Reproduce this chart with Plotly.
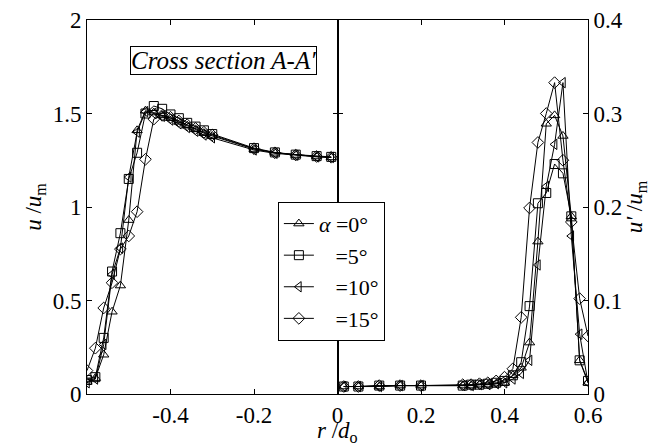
import plotly.graph_objects as go

# r/d0 positions (left half: mean velocity, right half: fluctuation)
r_left = [-0.60, -0.58, -0.56, -0.54, -0.52, -0.50, -0.48, -0.46, -0.44, -0.42, -0.40,
          -0.38, -0.36, -0.34, -0.32, -0.30, -0.20, -0.15, -0.10, -0.05, -0.015]
r_right = [0.015, 0.05, 0.10, 0.15, 0.20, 0.30, 0.32, 0.34, 0.36, 0.38, 0.40,
           0.42, 0.44, 0.46, 0.48, 0.50, 0.52, 0.54, 0.56, 0.58, 0.60]

# u/um
u_a0 = [0.065, 0.085, 0.21, 0.44, 0.58, 0.93, 1.41, 1.515, 1.505, 1.49, 1.475,
        1.455, 1.435, 1.415, 1.395, 1.38, 1.31, 1.29, 1.278, 1.27, 1.265]
u_a5 = [0.075, 0.09, 0.30, 0.655, 0.86, 1.15, 1.29, 1.50, 1.54, 1.525, 1.495,
        1.475, 1.45, 1.43, 1.41, 1.39, 1.315, 1.292, 1.28, 1.272, 1.268]
u_a10 = [0.06, 0.08, 0.265, 0.64, 0.78, 1.16, 1.40, 1.51, 1.50, 1.485, 1.465,
         1.445, 1.425, 1.405, 1.385, 1.37, 1.305, 1.287, 1.277, 1.268, 1.265]
u_a15 = [0.125, 0.245, 0.46, 0.595, 0.775, 0.845, 0.975, 1.255, 1.47, 1.49, 1.48,
         1.46, 1.44, 1.42, 1.40, 1.385, 1.312, 1.29, 1.278, 1.27, 1.266]

# u'/um
up_a0 = [0.008, 0.008, 0.008, 0.009, 0.009, 0.009, 0.009, 0.010, 0.010, 0.011, 0.012,
         0.020, 0.028, 0.055, 0.163, 0.289, 0.298, 0.276, 0.19, 0.036, 0.012]
up_a5 = [0.008, 0.008, 0.009, 0.009, 0.009, 0.009, 0.010, 0.010, 0.011, 0.012, 0.014,
         0.020, 0.034, 0.094, 0.204, 0.215, 0.246, 0.236, 0.19, 0.036, 0.014]
up_a10 = [0.008, 0.008, 0.008, 0.009, 0.009, 0.009, 0.009, 0.010, 0.010, 0.011, 0.012,
          0.016, 0.022, 0.036, 0.138, 0.222, 0.267, 0.333, 0.169, 0.064, 0.012]
up_a15 = [0.008, 0.008, 0.009, 0.009, 0.009, 0.010, 0.010, 0.011, 0.012, 0.014, 0.018,
          0.027, 0.082, 0.199, 0.269, 0.300, 0.333, 0.25, 0.184, 0.102, 0.062]

labels = ["<i>α</i> =0°", "\u00a0\u00a0\u00a0=5°", "\u00a0\u00a0\u00a0=10°", "\u00a0\u00a0\u00a0=15°"]
symbols = ["triangle-up-open", "square-open", "triangle-left-open", "diamond-open"]

FONT = "Liberation Serif"

fig = go.Figure()

left_series = [u_a0, u_a5, u_a10, u_a15]
right_series = [up_a0, up_a5, up_a10, up_a15]

for name, sym, yl in zip(labels, symbols, left_series):
    fig.add_trace(go.Scatter(
        x=r_left, y=yl, mode="lines+markers", name=name,
        line=dict(color="black", width=1),
        marker=dict(symbol=sym, size=9, color="black", line=dict(width=1)),
        xaxis="x", yaxis="y"
    ))
for name, sym, yr in zip(labels, symbols, right_series):
    fig.add_trace(go.Scatter(
        x=r_right, y=yr, mode="lines+markers", name=name, showlegend=False,
        line=dict(color="black", width=1),
        marker=dict(symbol=sym, size=9, color="black", line=dict(width=1)),
        xaxis="x2", yaxis="y2"
    ))

axis_common = dict(
    showline=True, linecolor="black", linewidth=1, mirror="ticks",
    ticks="inside", ticklen=5, tickwidth=1, tickcolor="black",
    showgrid=False, zeroline=False, automargin=False,
    tickfont=dict(family=FONT, size=23, color="black"),
)

fig.update_layout(
    xaxis=dict(domain=[0, 0.5], range=[-0.6, 0], tickvals=[-0.4, -0.2],
               ticktext=["-0.4", "-0.2"], anchor="y", **axis_common),
    xaxis2=dict(domain=[0.5, 1], range=[0, 0.6], tickvals=[0, 0.2, 0.4, 0.6],
                ticktext=["0", "0.2", "0.4", "0.6"], anchor="y2", **axis_common),
    yaxis=dict(range=[0, 2], tickvals=[0, 0.5, 1, 1.5, 2],
               ticktext=["0", "0.5", "1", "1.5", "2"], anchor="x",
               title=dict(text="<i>u</i> /<i>u</i><sub>m</sub>",
                          font=dict(family=FONT, size=23, color="black"), standoff=4),
               **axis_common),
    yaxis2=dict(range=[0, 0.4], tickvals=[0, 0.1, 0.2, 0.3, 0.4],
                ticktext=["0", "0.1", "0.2", "0.3", "0.4"], anchor="x2", side="right",
                title=dict(text="<i>u'</i> /<i>u</i><sub>m</sub>",
                           font=dict(family=FONT, size=23, color="black"), standoff=2),
                **axis_common),
    width=656, height=445,
    margin=dict(l=79, r=76, t=12, b=59),
    plot_bgcolor="white", paper_bgcolor="white",
    font=dict(family=FONT, size=22, color="black"),
    legend=dict(x=0.381, y=0.514, xanchor="left", yanchor="top",
                bordercolor="black", borderwidth=1, bgcolor="white",
                font=dict(family=FONT, size=22, color="black"),
                entrywidth=75, entrywidthmode="pixels",
                tracegroupgap=0),
    showlegend=True,
)

fig.add_annotation(
    x=-0.272, y=1.786, xref="x", yref="y", showarrow=False,
    text="<i>Cross section A-A′</i>",
    font=dict(family=FONT, size=25, color="black"),
    bordercolor="black", borderwidth=1, borderpad=0, bgcolor="white"
)

fig.add_annotation(
    x=0.5, y=-0.058, xref="paper", yref="paper", showarrow=False,
    text="<i>r</i> /<i>d</i><sub>o</sub>",
    font=dict(family=FONT, size=23, color="black"), yanchor="top"
)

fig.write_html("out.html")
